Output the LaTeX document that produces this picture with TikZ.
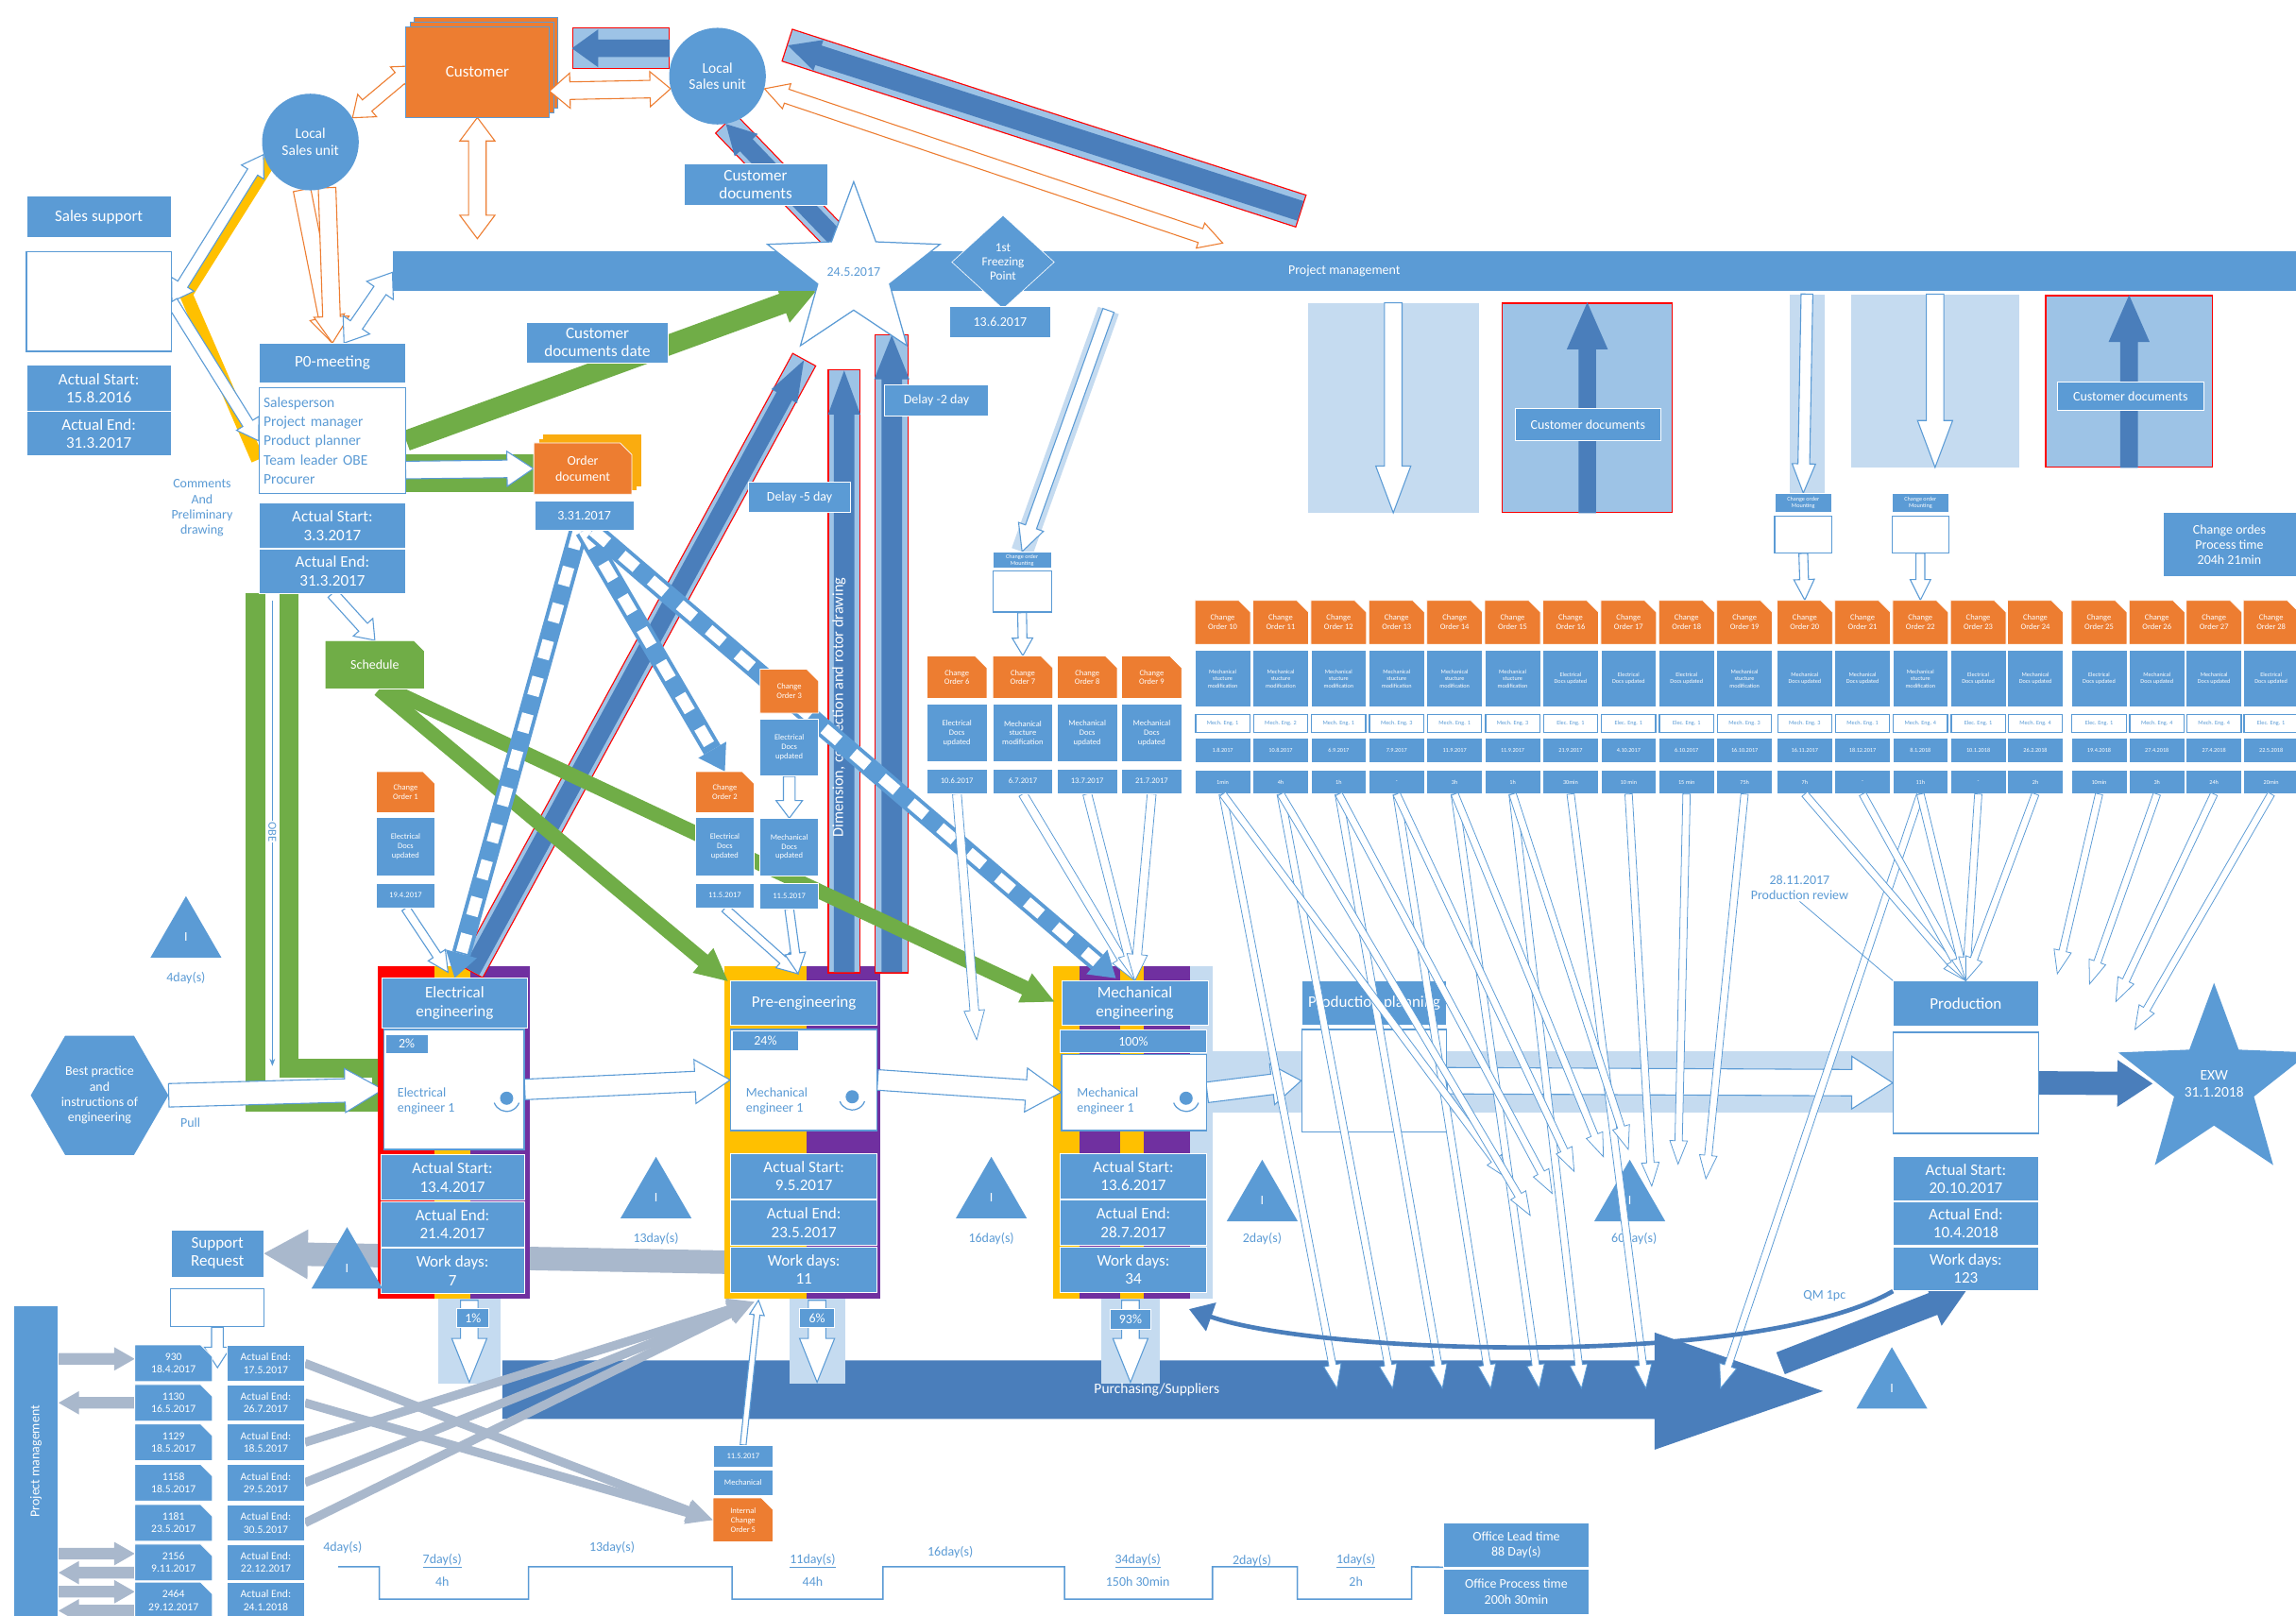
\documentclass[tikz,border=0pt]{standalone}
\usepackage{fontspec}
\setmainfont{Carlito}
\usetikzlibrary{calc,shapes.geometric,shapes.misc,arrows.meta}

\definecolor{vsmblue}{HTML}{5B9BD5}
\definecolor{vsmdark}{HTML}{4A7EBB}
\definecolor{vsmlight}{HTML}{C5DBF0}
\definecolor{vsmmid}{HTML}{9DC3E6}
\definecolor{vsmorange}{HTML}{ED7D31}
\definecolor{vsmgreen}{HTML}{70AD47}
\definecolor{vsmyellow}{HTML}{FFC000}
\definecolor{vsmpurple}{HTML}{7030A0}
\definecolor{vsmgray}{HTML}{A9B8CC}
\definecolor{vsmred}{HTML}{FF0000}

\newcommand\fbig{\fontsize{11}{12.5}\selectfont}
\newcommand\fmid{\fontsize{9}{10.5}\selectfont}
\newcommand\flist{\fontsize{7.5}{8.5}\selectfont}
\newcommand\fsm{\fontsize{5.5}{6.3}\selectfont}
\newcommand\ftiny{\fontsize{4}{4.7}\selectfont}

\newcommand\tMS{Mechanical\\stucture\\modification}
\newcommand\tED{Electrical\\Docs updated}
\newcommand\tMD{Mechanical\\Docs updated}
\newcommand\tEDu{Electrical\\Docs\\updated}
\newcommand\tMDu{Mechanical\\Docs\\updated}

\newcommand\barrow[6][]{%
  \coordinate (bah) at ($(#3)!#6!(#2)$);
  \filldraw[#1] ($(#2)!#4!90:(#3)$) -- ($(bah)!#4!90:(#3)$) -- ($(bah)!#5!90:(#3)$) -- (#3)
    -- ($(bah)!#5!-90:(#3)$) -- ($(bah)!#4!-90:(#3)$) -- ($(#2)!#4!-90:(#3)$) -- cycle;}
\newcommand\dbarrow[6][]{%
  \coordinate (bah) at ($(#3)!#6!(#2)$);
  \coordinate (bat) at ($(#2)!#6!(#3)$);
  \filldraw[#1] (#2) -- ($(bat)!#5!90:(#3)$) -- ($(bat)!#4!90:(#3)$) -- ($(bah)!#4!90:(#3)$)
    -- ($(bah)!#5!90:(#3)$) -- (#3) -- ($(bah)!#5!-90:(#3)$) -- ($(bah)!#4!-90:(#3)$)
    -- ($(bat)!#4!-90:(#3)$) -- ($(bat)!#5!-90:(#3)$) -- cycle;}
\newcommand\band[3]{%
  \draw[vsmred,line width=#3+1.6pt,shorten <=-0.8pt,shorten >=-0.8pt] (#1) -- (#2);
  \draw[vsmmid,line width=#3] (#1) -- (#2);}
\newcommand\stripe[2]{%
  \coordinate (sth) at ($(#2)!17pt!(#1)$);
  \draw[vsmblue,line width=13pt] (#1) -- (sth);
  \draw[white,line width=8pt,dash pattern=on 13pt off 13pt] (#1) -- (sth);
  \fill[vsmblue] ($(sth)!11pt!90:(#2)$) -- (#2) -- ($(sth)!11pt!-90:(#2)$) -- cycle;}
\newcommand\opicon[1]{%
  \fill[vsmblue] (#1) circle (4.5pt);
  \draw[vsmblue,line width=0.8pt] (#1) ++(200:9pt) arc[start angle=200,end angle=340,radius=9pt];}

\pgfdeclarelayer{back}
\pgfdeclarelayer{front}
\pgfsetlayers{back,main,front}

\begin{document}
\begin{tikzpicture}[x=1pt,y=-1pt,
  bx/.style={fill=vsmblue,draw=white,line width=0.5pt,text=white,align=center,inner sep=0pt,font=\fbig},
  sz/.style 2 args={minimum width=#1pt,minimum height=#2pt},
  wbx/.style={fill=white,draw=vsmblue,line width=0.8pt,inner sep=0pt},
  docbx/.style={bx,fill=vsmorange,chamfered rectangle,chamfered rectangle corners=north east,chamfered rectangle xsep=4pt,chamfered rectangle ysep=4pt},
  lbl/.style={text=vsmblue,font=\fmid,align=center,inner sep=1pt},
  inv/.style={regular polygon,regular polygon sides=3,fill=vsmblue,text=white,font=\fmid,minimum size=56pt,inner sep=0pt},
  circ/.style={circle,fill=vsmblue,text=white,font=\fontsize{10}{11.5}\selectfont,align=center,minimum size=66pt,inner sep=0pt},
  outarr/.style={fill=white,draw=vsmblue,line width=0.7pt},
  thinarr/.style={fill=white,draw=vsmblue,line width=0.5pt},
  orarr/.style={fill=white,draw=vsmorange,line width=0.7pt},
  bluearr/.style={fill=vsmdark,draw=none},
  grnarr/.style={fill=vsmgreen,draw=none},
  gryarr/.style={fill=vsmgray,draw=none}]
\useasboundingbox (0,0) rectangle (1568,1103);

\begin{pgfonlayer}{back}
\fill[white] (0,0) rectangle (1568,1103);
\foreach \d in {6,3}
  \filldraw[fill=vsmorange,draw=vsmblue,line width=0.5pt] (277+\d,18-\d) rectangle (375+\d,80-\d);
\foreach \d in {6,3}
  \fill[vsmyellow!70!vsmorange] (365+\d,303-\d) rectangle (432+\d,338-\d);
\node[fill=vsmlight,sz={117}{143}] (pn1) at (951.5,278.5) {};
\node[fill=vsmmid,draw=vsmred,line width=1pt,sz={116}{143}] (pn2) at (1084,278.5) {};
\node[fill=vsmlight,sz={24}{136}] (pn3) at (1234,269) {};
\node[fill=vsmlight,sz={115}{118}] (pn4) at (1321.5,260) {};
\node[fill=vsmmid,draw=vsmred,line width=1pt,sz={114}{117}] (pn5) at (1454,260.5) {};
\node[fill=vsmmid,draw=vsmred,line width=0.8pt,sz={66}{28}] (lbox) at (424,33) {};
\fill[vsmlight] (828,718) rectangle (1293,760);
\end{pgfonlayer}

\node[fill=vsmblue,sz={1300}{27},inner sep=0pt,text=white,font=\fmid] (pmbar) at (918,185) {Project management};
\node[bx,fill=vsmorange,draw=vsmblue,sz={98}{62}] (cust) at (326,49) {Customer};
\node[circ] (lsu1) at (212,97) {Local\\Sales unit};
\node[circ] (lsu2) at (490,52) {Local\\Sales unit};
\node[bx,sz={98}{28}] (cdoc) at (516,126) {Customer\\documents};
\node[bx,sz={99}{28}] (ss) at (67.5,148) {Sales support};
\node[wbx,sz={99}{68}] (ssw) at (67.5,206) {};
\node[bx,sz={99}{31}] (ss1) at (67.5,265) {Actual Start:\\15.8.2016};
\node[bx,sz={99}{30}] (ss2) at (67.5,296) {Actual End:\\31.3.2017};
\node[bx,sz={100}{27}] (pom) at (227,248) {P0-meeting};
\node[wbx,sz={100}{72},text=vsmblue,font=\fontsize{10}{13}\selectfont,align=left,text width=94pt] (att) at (227,301) {Salesperson\\Project manager\\Product planner\\Team leader OBE\\Procurer};
\node[bx,sz={100}{31}] (poas) at (227,359) {Actual Start:\\3.3.2017};
\node[bx,sz={100}{30}] (poae) at (227,390) {Actual End:\\31.3.2017};
\node[lbl] (cmt) at (138,347) {Comments\\And\\Preliminary\\drawing};
\node[docbx,sz={67}{35},font=\fmid] (odoc) at (398,320) {Order\\document};
\node[bx,sz={68}{20},font=\fmid] (odd) at (399,352) {3.31.2017};
\node[docbx,fill=vsmgreen,sz={68}{33},font=\fmid] (sched) at (256,454) {Schedule};
\node[bx,sz={97}{28}] (cdd) at (408,234) {Customer\\documents date};
\node[star,star points=5,star point ratio=2.4,minimum size=122pt,fill=white,draw=vsmblue,line width=0.8pt,text=vsmblue,font=\fmid,inner sep=0pt] (star) at (583,186) {24.5.2017};
\node[diamond,aspect=1.1,fill=vsmblue,draw=white,text=white,font=\fontsize{8.5}{9.5}\selectfont,align=center,minimum width=70pt,minimum height=64pt,inner sep=0pt] (frz) at (685,179) {1st\\Freezing\\Point};
\node[bx,sz={69}{21},font=\fmid] (frzd) at (683,220) {13.6.2017};
\node[bx,sz={70}{21},font=\fmid] (dl5) at (546,339.5) {Delay -5 day};
\node[bx,sz={71}{21},font=\fmid] (dl2) at (639.5,273.5) {Delay -2 day};
\node[bx,sz={99}{22},font=\fmid] (cdo1) at (1084.5,290) {Customer documents};
\node[bx,sz={100}{19},font=\fmid] (cdo2) at (1455,270.5) {Customer documents};
\node[bx,sz={91}{44},font=\fmid] (cop) at (1522.5,372) {Change ordes\\Process time\\204h 21min};
\node[bx,sz={40}{11},font=\ftiny] (mb0) at (698,382.5) {Change order\\Mounting};
\node[wbx,sz={40}{28}] (mbw0) at (698,404) {};
\node[bx,sz={39}{13},font=\ftiny] (mb1) at (1231.5,343.5) {Change order\\Mounting};
\node[wbx,sz={39}{25}] (mbw1) at (1231.5,365) {};
\node[bx,sz={39}{13},font=\ftiny] (mb2) at (1311.5,343.5) {Change order\\Mounting};
\node[wbx,sz={39}{25}] (mbw2) at (1311.5,365) {};

\node[regular polygon,regular polygon sides=6,fill=vsmblue,text=white,font=\fmid,align=center,minimum size=94pt,inner sep=0pt] (bp) at (68,748) {Best practice\\and\\instructions of\\engineering};
\node[lbl] (pull) at (130,767) {Pull};

\node[bx,sz={99}{34}] (eeh) at (310.5,685) {Electrical\\engineering};
\node[wbx,sz={96}{82}] (eew) at (310,744) {};
\node[bx,sz={29}{13},font=\fmid,anchor=north west] (eep) at (263,706) {2\%};
\node[text=vsmblue,font=\fmid,align=left,anchor=west] (eeo) at (268,752) {Electrical\\engineer 1};
\opicon{346,750}
\node[bx,sz={98}{31}] (ees) at (309,804) {Actual Start:\\13.4.2017};
\node[bx,sz={98}{31}] (eee) at (309,836) {Actual End:\\21.4.2017};
\node[bx,sz={98}{31}] (eed) at (309,868) {Work days:\\7};

\node[bx,sz={100}{30}] (preh) at (549,685) {Pre-engineering};
\node[wbx,sz={100}{69}] (prew) at (549,737.5) {};
\node[bx,sz={45}{13},font=\fmid,anchor=north west] (prep) at (500,704) {24\%};
\node[text=vsmblue,font=\fmid,align=left,anchor=west] (preo) at (506,752) {Mechanical\\engineer 1};
\opicon{582,749}
\node[bx,sz={100}{31}] (pres) at (549,803) {Actual Start:\\9.5.2017};
\node[bx,sz={100}{31}] (pree) at (549,835) {Actual End:\\23.5.2017};
\node[bx,sz={100}{31}] (pred) at (549,867) {Work days:\\11};

\node[bx,sz={100}{30}] (meh) at (775,685) {Mechanical\\engineering};
\node[bx,sz={100}{15},font=\fmid] (mep) at (774,711) {100\%};
\node[wbx,sz={99}{52}] (mew) at (774.5,746) {};
\node[text=vsmblue,font=\fmid,align=left,anchor=west] (meo) at (732,752) {Mechanical\\engineer 1};
\opicon{810,750}
\node[bx,sz={100}{31}] (mes) at (774,803) {Actual Start:\\13.6.2017};
\node[bx,sz={100}{31}] (mee) at (774,835) {Actual End:\\28.7.2017};
\node[bx,sz={100}{31}] (med) at (774,867) {Work days:\\34};

\node[bx,sz={99}{30}] (pph) at (938.5,685) {Production planning};
\node[wbx,sz={99}{70}] (ppw) at (938.5,738) {};
\node[bx,sz={99}{31}] (prd) at (1342.5,685.5) {Production};
\node[wbx,sz={99}{69}] (prdw) at (1342.5,739.5) {};
\node[bx,sz={99}{30}] (prds) at (1342.5,805) {Actual Start:\\20.10.2017};
\node[bx,sz={99}{30}] (prde) at (1342.5,835.5) {Actual End:\\10.4.2018};
\node[bx,sz={99}{30}] (prdd) at (1342.5,866.5) {Work days:\\123};
\node[star,star points=5,star point ratio=2.4,minimum size=126pt,fill=vsmblue,text=white,font=\fontsize{10}{11.5}\selectfont,align=center,inner sep=0pt] (exw) at (1512,740) {EXW\\31.1.2018};

\node[bx,sz={22}{13},font=\fmid] (ee1) at (323,900) {1\%};
\node[bx,sz={24}{13},font=\fmid] (pre6) at (558,900) {6\%};
\node[bx,sz={28}{14},font=\fmid] (me93) at (772,901) {93\%};
\node[text=white,font=\fontsize{10}{11}\selectfont] (pur) at (790,949) {Purchasing/Suppliers};
\node[lbl] (prv) at (1229,606) {28.11.2017\\Production review};
\node[lbl] (qm) at (1246,885) {QM 1pc};

\node[inv] (t1) at (127,640) {I};
\node[lbl] (t1l) at (127,668) {4day(s)};
\node[inv] (t2) at (448,818) {I};
\node[lbl] (t2l) at (448,846) {13day(s)};
\node[inv] (t3) at (677,818) {I};
\node[lbl] (t3l) at (677,846) {16day(s)};
\node[inv] (t4) at (862,820) {I};
\node[lbl] (t4l) at (862,846) {2day(s)};
\node[inv] (t5) at (1113,820) {I};
\node[lbl] (t5l) at (1116,846) {60day(s)};
\node[inv] (t6) at (237,866) {I};
\node[inv] (t7) at (1292,948) {I};

\node[bx,sz={63}{32}] (sreq) at (148.5,856) {Support\\Request};
\node[wbx,sz={64}{26}] (srw) at (148.5,893) {};
\node[fill=vsmblue,minimum width=212pt,minimum height=30pt,inner sep=0pt,rotate=90,text=white,font=\fmid] (pmv) at (24.5,998) {Project management};
\foreach \i/\y/\pn/\pdt/\pend in {1/931/930/18.4.2017/17.5.2017,2/958/1130/16.5.2017/26.7.2017,3/985/1129/18.5.2017/18.5.2017,4/1012.5/1158/18.5.2017/29.5.2017,5/1040/1181/23.5.2017/30.5.2017,6/1067/2156/9.11.2017/22.12.2017,7/1093/2464/29.12.2017/24.1.2018}{
  \node[docbx,fill=vsmblue,sz={53}{25},font=\flist] (pl\i) at (118.5,\y) {\pn\\\pdt};
  \node[bx,sz={53}{25},font=\flist] (pr\i) at (181.5,\y) {Actual End:\\\pend};}
\node[bx,sz={41}{15},font=\fsm] (icd) at (507.5,994.5) {11.5.2017};
\node[bx,sz={41}{17},font=\fsm] (icm) at (507.5,1012.5) {Mechanical};
\node[docbx,sz={41}{30},font=\fsm] (ico) at (507.5,1038) {Internal\\Change\\Order 5};
\node[bx,sz={99}{30},font=\fmid] (olt) at (1035.5,1055) {Office Lead time\\88 Day(s)};
\node[bx,sz={99}{31},font=\fmid] (opt) at (1035.5,1087) {Office Process time\\200h 30min};
\node[lbl] (tl1) at (234,1057) {4day(s)};
\node[lbl] (tl2) at (302,1066) {\underline{7day(s)}};
\node[lbl] (tl3) at (302,1080) {4h};
\node[lbl] (tl4) at (418,1057) {13day(s)};
\node[lbl] (tl5) at (555,1066) {\underline{11day(s)}};
\node[lbl] (tl6) at (555,1080) {44h};
\node[lbl] (tl7) at (649,1060) {16day(s)};
\node[lbl] (tl8) at (777,1066) {\underline{34day(s)}};
\node[lbl] (tl9) at (777,1080) {150h 30min};
\node[lbl] (tl10) at (855,1066) {2day(s)};
\node[lbl] (tl11) at (926,1066) {\underline{1day(s)}};
\node[lbl] (tl12) at (926,1080) {2h};

\node[docbx,sz={40}{28},font=\fsm] (co1) at (277,541) {Change\\Order 1};
\node[bx,sz={40}{40},font=\fsm] (cot1) at (277,578) {\tEDu};
\node[bx,sz={40}{17},font=\fsm] (cod1) at (277,611.5) {19.4.2017};
\node[docbx,sz={40}{28},font=\fsm] (co2) at (495,541) {Change\\Order 2};
\node[bx,sz={40}{40},font=\fsm] (cot2) at (495,578) {\tEDu};
\node[bx,sz={40}{17},font=\fsm] (cod2) at (495,611.5) {11.5.2017};
\node[docbx,sz={40}{30},font=\fsm] (co3) at (539,472) {Change\\Order 3};
\node[bx,sz={40}{39},font=\fsm] (cot3) at (539,510.5) {\tEDu};
\node[bx,sz={40}{39},font=\fsm] (cot3b) at (539,578.5) {\tMDu};
\node[bx,sz={40}{17},font=\fsm] (cod3) at (539,612) {11.5.2017};
\foreach \i/\cx/\ctype/\cdate in {6/653.5/\tEDu/10.6.2017,7/698.5/\tMS/6.7.2017,8/742.5/\tMDu/13.7.2017,9/786.5/\tMDu/21.7.2017}{
  \node[docbx,sz={41}{29},font=\fsm] (co\i) at (\cx,462.5) {Change\\Order \i};
  \node[bx,sz={41}{39},font=\fsm] (cot\i) at (\cx,500.5) {\ctype};
  \node[bx,sz={41}{17},font=\fsm] (cod\i) at (\cx,533.5) {\cdate};}
\foreach \i/\cx/\ctype/\ceng/\cdate/\chrs in {
  10/835/\tMS/Mech. Eng. 1/1.8.2017/1min, 11/874.6/\tMS/Mech. Eng. 2/10.8.2017/4h,
  12/914.2/\tMS/Mech. Eng. 1/6.9.2017/1h, 13/953.8/\tMS/Mech. Eng. 3/7.9.2017/-,
  14/993.4/\tMS/Mech. Eng. 1/11.9.2017/3h, 15/1033/\tMS/Mech. Eng. 3/11.9.2017/1h,
  16/1072.6/\tED/Elec. Eng. 1/21.9.2017/30min, 17/1112.2/\tED/Elec. Eng. 1/4.10.2017/10 min,
  18/1151.8/\tED/Elec. Eng. 1/6.10.2017/15 min, 19/1191.4/\tMS/Mech. Eng. 3/16.10.2017/75h,
  20/1232.5/\tMD/Mech. Eng. 3/16.11.2017/7h, 21/1272/\tMD/Mech. Eng. 1/18.12.2017/-,
  22/1311.5/\tMS/Mech. Eng. 4/8.1.2018/11h, 23/1351/\tED/Elec. Eng. 1/10.1.2018/-,
  24/1390/\tMD/Mech. Eng. 4/26.2.2018/2h, 25/1433.5/\tED/Elec. Eng. 1/19.4.2018/10min,
  26/1473/\tMD/Mech. Eng. 4/27.4.2018/3h, 27/1512/\tMD/Mech. Eng. 4/27.4.2018/24h,
  28/1551/\tED/Elec. Eng. 1/22.5.2018/20min}{
  \node[docbx,sz={38}{30},font=\fsm] (co\i) at (\cx,425) {Change\\Order \i};
  \node[bx,sz={38}{39},font=\ftiny] (cot\i) at (\cx,463.5) {\ctype};
  \node[wbx,sz={37}{12},font=\ftiny,text=vsmblue] (coe\i) at (\cx,494) {\ceng};
  \node[bx,sz={38}{17},font=\ftiny] (cod\i) at (\cx,512.5) {\cdate};
  \node[bx,sz={38}{16},font=\ftiny] (coh\i) at (\cx,534) {\chrs};}

\begin{pgfonlayer}{back}
\fill[vsmdark] (343,929) -- (1130,929) -- (1130,910) -- (1245,950) -- (1130,990) -- (1130,969) -- (343,969) -- cycle;
\coordinate (purh) at (1216,931);
\barrow[bluearr]{purh}{prdd.south}{8pt}{16pt}{24pt}
\draw[vsmgreen,line width=36pt] (186,405) |- (258,741);
\draw[white,line width=10pt] (186,405) |- (254,741);
\draw[vsmblue,line width=0.5pt,-{Stealth[length=5pt]}] (186,410) -- (186,728);
\node[text=vsmblue,font=\fontsize{8}{9}\selectfont,rotate=-90,fill=white,inner sep=0.5pt] (obe) at (186,568) {OBE};
\barrow[outarr]{bp.east}{eew.west}{8pt}{15pt}{26pt}
\coordinate (gy1) at (497,862);
\barrow[gryarr]{gy1}{sreq.east}{8pt}{17pt}{30pt}
\fill[vsmred] (258,660) rectangle (297,887);
\fill[vsmyellow] (297,660) rectangle (321,887);
\fill[vsmpurple] (321,660) rectangle (362,887);
\fill[vsmyellow] (495,660) rectangle (551,887);
\fill[vsmpurple] (551,660) rectangle (601,887);
\fill[vsmyellow] (719,660) rectangle (737,887);
\fill[vsmpurple] (737,660) rectangle (765,887);
\fill[vsmyellow] (765,660) rectangle (781,887);
\fill[vsmpurple] (781,660) rectangle (813,887);
\fill[vsmlight] (813,660) rectangle (828,887);
\fill[vsmlight] (299,887) rectangle (342,945);
\fill[vsmlight] (539,887) rectangle (577,945);
\fill[vsmlight] (752,887) rectangle (792,945);
\coordinate (pa1) at (320.5,888); \coordinate (pe1) at (320.5,944);
\coordinate (pa2) at (558,888); \coordinate (pe2) at (558,944);
\coordinate (pa3) at (772,888); \coordinate (pe3) at (772,944);
\foreach \k in {1,2,3} {\barrow[outarr]{pa\k}{pe\k}{6pt}{12pt}{30pt}}
\barrow[outarr]{mew.east}{ppw.west}{7pt}{14pt}{20pt}
\barrow[outarr]{ppw.east}{prdw.west}{9pt}{18pt}{28pt}
\coordinate (exl) at (1470,740);
\barrow[bluearr]{prdw.east}{exl}{8pt}{16pt}{24pt}
\barrow[outarr]{eew.east}{prew.west}{7pt}{15pt}{24pt}
\barrow[outarr]{prew.east}{mew.west}{7pt}{15pt}{24pt}

\coordinate (ca1) at (283,45);
\dbarrow[orarr]{lsu1.30}{ca1}{5pt}{10pt}{13pt}
\dbarrow[orarr]{cust.-15}{lsu2.195}{6pt}{12pt}{14pt}
\coordinate (cv) at (326,163);
\dbarrow[orarr]{cust.south}{cv}{6pt}{12pt}{16pt}
\barrow[bluearr]{lbox.east}{lbox.west}{6pt}{13pt}{18pt}
\coordinate (bd1) at (888,144); \coordinate (bd2) at (538,31);
\band{bd1}{bd2}{22pt}
\barrow[bluearr]{bd1}{bd2}{7pt}{11pt}{22pt}
\coordinate (pmr) at (835,166);
\dbarrow[orarr]{lsu2.-15}{pmr}{5pt}{9pt}{16pt}
\coordinate (cdb) at (574,166);
\band{cdb}{lsu2.-80}{18pt}
\barrow[bluearr]{cdb}{lsu2.-80}{6pt}{11pt}{20pt}
\coordinate (yj1) at (127,201); \coordinate (yj2) at (188,104); \coordinate (yj3) at (176,314);
\draw[vsmyellow,line width=9pt] (yj1) -- (yj2);
\draw[vsmyellow,line width=9pt] (yj1) -- (yj3);
\dbarrow[outarr]{ssw.east}{lsu1.195}{4pt}{9pt}{14pt}
\barrow[outarr]{ssw.east}{att.west}{4pt}{9pt}{14pt}
\barrow[orarr]{lsu1.-100}{pom.north}{6pt}{12pt}{18pt}
\barrow[orarr]{lsu1.-70}{pom.north}{6pt}{12pt}{18pt}
\coordinate (pmbl) at (268,186);
\dbarrow[outarr]{pom.60}{pmbl}{5pt}{11pt}{15pt}
\coordinate (stl) at (557,199);
\barrow[grnarr]{att.east}{stl}{7pt}{14pt}{24pt}
\fill[vsmgreen] (277,310) rectangle (365,336);
\coordinate (gb1) at (277,321);
\barrow[outarr]{gb1}{odoc.west}{6pt}{12pt}{18pt}
\barrow[outarr]{poae.south}{sched.north}{4pt}{9pt}{12pt}

\coordinate (eb1) at (322,663); \coordinate (eb2) at (549,246);
\band{eb1}{eb2}{17pt}
\barrow[bluearr]{eb1}{eb2}{6pt}{10pt}{28pt}
\coordinate (vb1) at (576.5,664); \coordinate (vb2) at (576.5,253);
\band{vb1}{vb2}{21pt}
\barrow[bluearr]{vb1}{vb2}{7pt}{11pt}{30pt}
\node[text=white,font=\fontsize{10.5}{12}\selectfont,rotate=90] (dim) at (573,483) {Dimension, connection and rotor drawing};
\coordinate (wb1) at (609,664); \coordinate (wb2) at (609,229);
\band{wb1}{wb2}{22pt}
\barrow[bluearr]{wb1}{wb2}{7pt}{12pt}{30pt}

\coordinate (pgl) at (497,670); \coordinate (mgl) at (720,684);
\barrow[grnarr]{sched.-80}{pgl}{5pt}{11pt}{22pt}
\barrow[grnarr]{sched.-60}{mgl}{5pt}{11pt}{22pt}
\coordinate (mtl) at (762,668);
\stripe{odd.-110}{eeh.north}
\stripe{odd.south}{co2.north}
\stripe{odd.-60}{mtl}

\coordinate (eetop) at (306,664); \coordinate (pretop) at (545,665);
\barrow[outarr]{cod1.south}{eetop}{3pt}{7pt}{14pt}
\barrow[outarr]{cod2.south}{pretop}{3pt}{7pt}{14pt}
\barrow[outarr]{cod3.south}{pretop}{3pt}{7pt}{14pt}
\barrow[outarr]{cot3.south}{cot3b.north}{4pt}{9pt}{12pt}
\coordinate (c6e) at (667,710);
\barrow[thinarr]{cod6.south}{c6e}{3pt}{7pt}{20pt}
\foreach \i in {7,8,9} {\barrow[thinarr]{cod\i.south}{meh.north}{3pt}{7pt}{18pt}}
\coordinate (fzb) at (757,212);
\draw[vsmlight,line width=15pt] (fzb) -- (mb0.north);
\barrow[outarr]{fzb}{mb0.north}{4pt}{9pt}{18pt}
\barrow[outarr]{mbw0.south}{co7.north}{3pt}{7pt}{12pt}
\barrow[outarr]{pn1.north}{pn1.south}{6pt}{12pt}{32pt}
\barrow[bluearr]{pn2.south}{pn2.north}{6pt}{14pt}{32pt}
\barrow[outarr]{pn3.north}{mb1.north}{4pt}{8pt}{20pt}
\barrow[outarr]{pn4.north}{pn4.south}{6pt}{12pt}{32pt}
\barrow[bluearr]{pn5.south}{pn5.north}{6pt}{14pt}{32pt}
\barrow[outarr]{mbw1.south}{co20.north}{3pt}{7pt}{14pt}
\barrow[outarr]{mbw2.south}{co22.north}{3pt}{7pt}{14pt}

\foreach \y in {928,1061,1087} {\coordinate (gl) at (40,\y); \coordinate (gr) at (92,\y);
  \barrow[gryarr]{gl}{gr}{4pt}{8pt}{14pt}}
\foreach \y in {958,1074,1100} {\coordinate (gl) at (40,\y); \coordinate (gr) at (92,\y);
  \barrow[gryarr]{gr}{gl}{4pt}{8pt}{14pt}}
\barrow[gryarr]{pr1.east}{ico.west}{3pt}{8pt}{18pt}
\barrow[gryarr]{pr2.east}{ico.west}{3pt}{8pt}{18pt}
\coordinate (preb) at (515,889);
\foreach \k in {3,4,5} {\barrow[gryarr]{pr\k.east}{preb}{3pt}{8pt}{18pt}}
\coordinate (srt) at (148.5,934);
\barrow[outarr]{srw.south}{srt}{4pt}{9pt}{14pt}
\coordinate (icu) at (518,888);
\barrow[outarr]{icd.north}{icu}{2pt}{5pt}{10pt}
\draw[vsmblue,line width=1pt] (231,1070) -| (259,1092) -| (361,1070) -| (500,1092) -| (603,1070) -| (727,1092) -| (828,1070) -| (886,1092) -| (964,1070) -- (olt.south west);
\end{pgfonlayer}

\begin{pgfonlayer}{front}
\foreach \i/\tx/\ty in {10/913/948,11/951/948,12/985/948,13/1018/948,14/1051/948,15/1080/948,16/1124/948,22/1175/948}{
  \coordinate (fa\i) at (\tx,\ty);
  \barrow[thinarr]{coh\i.south}{fa\i}{2.5pt}{6pt}{16pt}}
\foreach \i/\tx/\ty in {10/1030/805,11/1045/830,12/1060/815,13/1075/800,14/1095/790,15/1112/785,17/1128/810,18/1146/795,19/1165/805}{
  \coordinate (fb\i) at (\tx,\ty);
  \barrow[thinarr]{coh\i.south}{fb\i}{2.5pt}{6pt}{16pt}}
\foreach \i in {20,...,24} {\barrow[thinarr]{coh\i.south}{prd.north}{2.5pt}{6pt}{16pt}}
\foreach \i/\tx/\ty in {25/1405/665,26/1427/672,27/1445/684,28/1458/703}{
  \coordinate (fc\i) at (\tx,\ty);
  \barrow[thinarr]{coh\i.south}{fc\i}{2.5pt}{6pt}{16pt}}
\draw[vsmdark,line width=3pt,-{Triangle[length=16pt,width=20pt]}] (prdd.south west) .. controls (1200,935) and (900,925) .. (812,894);
\draw[vsmblue,line width=0.5pt] (prv.south) -- (prd.north west);
\end{pgfonlayer}
\end{tikzpicture}
\end{document}
